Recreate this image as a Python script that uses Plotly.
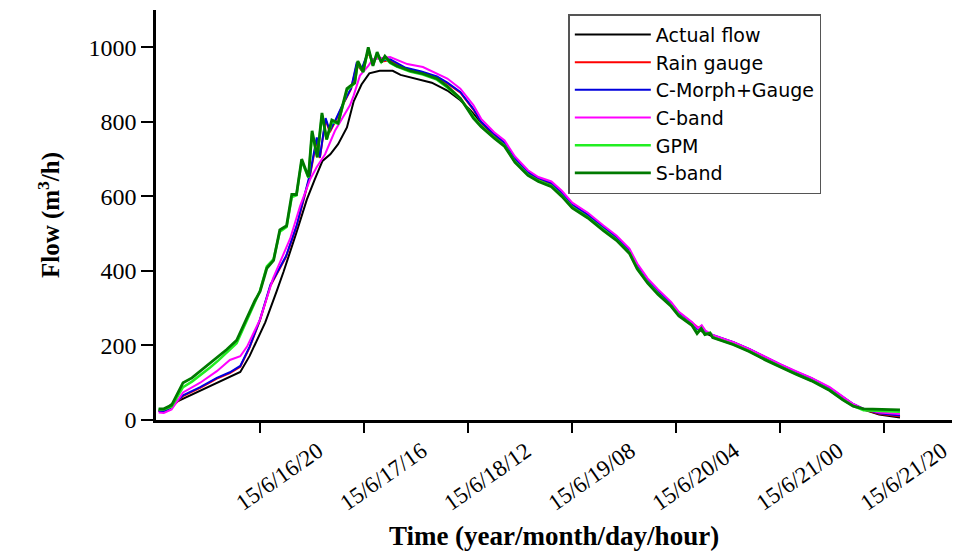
import pandas as pd
import plotly.graph_objects as go

# ---------------- data (hours after 2015-06-16 00:00, flow in m3/h) ----------------
START = "2015-06-16 00:00"
tick_hours = [20, 40, 60, 80, 100, 120, 140]

actual_h = [0.5, 1.5, 3, 6, 9, 12, 14.2, 16.2, 18, 21, 23.2, 24.5, 27, 29, 30.5, 32, 33.5, 35, 36.7,
            38, 39.5, 41, 43, 45.5, 47, 50, 53, 56, 58.5, 60.5, 62.5, 65, 67, 69, 71.5, 73.5, 76, 78,
            80, 83, 86, 88.5, 91, 92.5, 94.5, 96.5, 99, 100.5, 103, 105, 107, 111, 114, 117, 120,
            123, 126, 129.5, 132, 134, 136, 139, 143]
actual_v = [26, 24, 43, 63, 83, 102, 116, 129, 172, 262, 346, 397, 503, 592, 645, 695, 713, 740, 785,
            855, 900, 930, 937, 937, 926, 916, 905, 884, 858, 830, 797, 763, 740, 697, 661, 645, 632, 606,
            574, 547, 513, 487, 452, 410, 372, 342, 310, 284, 258, 237, 224, 205, 187, 165, 145,
            126, 108, 82, 57, 40, 28, 15, 7]

gauge_h = [0.5, 1.5, 3, 5.2, 8.5, 11.7, 14.2, 16.2, 18, 20, 22, 23.8, 25, 27, 28.5, 29.6, 30.9, 31.5,
           32.6, 33.4, 34.5, 36, 37.5, 38.6, 39.5, 40.8, 41.7, 42.5, 43.5, 45, 48, 51, 54, 56, 58.5,
           61, 62.5, 65, 67, 69, 71.5, 73.5, 76, 78, 80, 83, 86, 88.5, 91, 92.5, 94.5, 96.5, 99,
           100.5, 103, 105, 107, 111, 114, 117, 120, 123, 126, 129.5, 132, 134, 136, 139, 143]
gauge_v = [24, 23, 34, 64, 86, 111, 126, 143, 195, 268, 360, 405, 438, 518, 598, 655, 752, 703,
           806, 772, 802, 848, 888, 955, 938, 985, 958, 976, 962, 965, 943, 933, 920, 903, 878,
           833, 799, 766, 743, 700, 664, 648, 635, 609, 577, 550, 516, 490, 455, 413, 375, 345, 313,
           287, 261, 240, 227, 208, 190, 168, 148, 129, 111, 85, 60, 42, 29, 17, 10]

cmorph_h = [0.5, 1.5, 3, 5.2, 8.5, 11.7, 14.2, 16.2, 18, 20, 22, 23.8, 25, 27, 28.5, 29.6, 30.9, 31.5,
            32.6, 33.4, 34.5, 36, 37.5, 38.6, 39.5, 40.8, 41.7, 42.5, 43.5, 45, 48, 51, 54, 56, 58.5,
            61, 62.5, 65, 67, 69, 71.5, 73.5, 76, 78, 80, 83, 86, 88.5, 91, 92.5, 94.5, 96.5, 99,
            100.5, 103, 104, 104.8, 105.5, 107, 111, 114, 117, 120, 123, 126, 129.5, 132, 134, 136,
            139, 143]
cmorph_v = [24, 23, 35, 66, 88, 113, 128, 145, 197, 270, 363, 408, 440, 520, 600, 660, 758, 705,
            810, 776, 805, 850, 890, 960, 940, 990, 960, 980, 965, 968, 945, 935, 922, 905, 880,
            835, 800, 767, 744, 701, 665, 649, 636, 610, 578, 551, 517, 491, 456, 414, 376, 346, 314,
            288, 262, 244, 252, 238, 228, 209, 191, 169, 149, 130, 112, 86, 61, 43, 30, 18, 12]

cband_h = [0.5, 1.5, 3, 5.2, 8.5, 11.7, 14.2, 16.2, 17.5, 20, 22.5, 25.8, 27.7, 29.6, 30.9, 32.5,
           34.4, 37.3, 38, 39.2, 40.8, 41.7, 45, 48.3, 51.3, 54, 56, 58.5, 61, 62.5, 65, 67, 69,
           71.5, 73.5, 76, 78, 80, 83, 86, 88.5, 91, 92.5, 94.5, 96.5, 99, 100.5, 103, 104.2, 104.9,
           105.6, 107, 111, 114, 117, 120, 123, 126, 129.5, 132, 134, 136, 139, 143]
cband_v = [20, 19, 28, 74, 100, 131, 161, 171, 197, 270, 380, 487, 574, 645, 679, 713,
           776, 845, 871, 924, 950, 968, 974, 955, 947, 929, 916, 889, 845, 808, 772, 750, 707,
           670, 652, 640, 615, 583, 556, 522, 495, 460, 420, 380, 350, 317, 290, 263, 246, 254,
           240, 228, 209, 191, 170, 150, 131, 113, 88, 62, 43, 30, 20, 16]

gpm_h = [0.5, 1.5, 3, 5.2, 6.9, 8.5, 10.4, 12, 13.6, 15.5, 17.5, 19, 20, 21.3, 22.6, 23.8, 25.1, 26.1,
         27, 28, 29.3, 30, 31, 31.9, 32.8, 33.8, 35, 36.7, 38.2, 38.8, 39.8, 40.8, 41.7, 42.5, 43.3,
         44, 45, 46.3, 48.8, 51.3, 54, 56, 58.5, 61, 62.5, 65, 67, 69, 71.5, 73.5, 76, 78, 80, 83,
         86, 88.5, 91, 92.5, 94.5, 96.5, 99, 100.5, 103, 104, 104.8, 105.5, 106.5, 107, 111, 114,
         117, 120, 123, 126, 129.5, 132, 134, 136, 139, 143]
gpm_v = [28, 28, 36, 88, 103, 120, 141, 160, 180, 206, 268, 318, 347, 412, 432, 505, 518, 598,
         603, 695, 650, 770, 705, 818, 752, 800, 795, 885, 903, 960, 933, 995, 952, 982, 960,
         972, 958, 948, 935, 927, 913, 892, 862, 814, 788, 758, 736, 693, 658, 642, 628, 602, 571, 544,
         510, 484, 449, 407, 369, 339, 307, 281, 255, 234, 246, 230, 234, 222, 203, 185, 163, 143,
         124, 106, 80, 55, 38, 26, 24, 22]

sband_h = [0.5, 1.5, 3, 5.2, 6.9, 8.5, 10.4, 12, 13.6, 15.5, 17.5, 19, 20, 21.3, 22.6, 23.8, 25.1, 26.1,
           27, 28, 29.3, 30, 31, 31.9, 32.8, 33.8, 35, 36.7, 38.2, 38.8, 39.8, 40.8, 41.7, 42.5, 43.3,
           44, 45, 46.3, 48.8, 51.3, 54, 56, 58.5, 61, 62.5, 65, 67, 69, 71.5, 73.5, 76, 78, 80, 83,
           86, 88.5, 91, 92.5, 94.5, 96.5, 99, 100.5, 103, 104, 104.8, 105.5, 106.5, 107, 111, 114,
           117, 120, 123, 126, 129.5, 132, 134, 136, 139, 143]
sband_v = [30, 30, 40, 100, 113, 131, 152, 170, 189, 214, 275, 320, 345, 407, 428, 510, 521, 605,
           605, 700, 652, 776, 705, 824, 753, 805, 797, 889, 905, 963, 934, 1000, 950, 987, 960,
           976, 960, 950, 937, 929, 916, 895, 863, 810, 787, 756, 734, 691, 656, 640, 626, 600, 569, 542,
           508, 482, 447, 405, 367, 337, 305, 279, 254, 232, 245, 229, 233, 221, 202, 184, 162, 142,
           123, 105, 79, 54, 37, 30, 29, 27]

series = [
    ("Actual flow", actual_h, actual_v, "#000000", 2),
    ("Rain gauge", gauge_h, gauge_v, "#ff0000", 2),
    ("C-Morph+Gauge", cmorph_h, cmorph_v, "#0000dd", 2),
    ("C-band", cband_h, cband_v, "#ff00ff", 2),
    ("GPM", gpm_h, gpm_v, "#22ee22", 2.5),
    ("S-band", sband_h, sband_v, "#007a00", 2.8),
]

# ---------------- figure ----------------
base = pd.Timestamp(START)
fig = go.Figure()
for name, hrs, vals, color, w in series:
    t = base + pd.to_timedelta(hrs, unit="h")
    fig.add_trace(go.Scatter(x=t, y=vals, mode="lines", name=name,
                             line=dict(color=color, width=w)))

serif = "Liberation Serif, Times New Roman, serif"
fig.update_layout(
    width=965, height=556,
    margin=dict(l=156, r=13, t=10, b=128),
    paper_bgcolor="white", plot_bgcolor="white",
    showlegend=True,
    legend=dict(x=0.518, y=0.99, xanchor="left", yanchor="top",
                bordercolor="#555555", borderwidth=1.5, bgcolor="white",
                font=dict(family="DejaVu Sans, Arial, sans-serif", size=19, color="black"),
                tracegroupgap=0, itemwidth=76),
    xaxis=dict(
        type="date",
        range=[base, base + pd.Timedelta(hours=153)],
        tickvals=[base + pd.Timedelta(hours=h) for h in tick_hours],
        tickformat="%y/%-m/%d/%H", tickangle=-35,
        ticks="outside", ticklen=10, tickwidth=2, tickcolor="black",
        showline=True, linewidth=2.5, linecolor="black",
        showgrid=False, zeroline=False,
        tickfont=dict(family=serif, size=23, color="black"),
        ticklabelshift=58, ticklabelstandoff=-4,
        title=dict(text="<b>Time (year/month/day/hour)</b>",
                   font=dict(family=serif, size=27, color="black"), standoff=12),
    ),
    yaxis=dict(
        range=[0, 1100],
        tickvals=[0, 200, 400, 600, 800, 1000],
        ticks="outside", ticklen=12, tickwidth=2, tickcolor="black",
        showline=True, linewidth=2.5, linecolor="black",
        showgrid=False, zeroline=False,
        tickfont=dict(family=serif, size=24, color="black"),
        title=dict(text="<b>Flow (m<sup>3</sup>/h)</b>",
                   font=dict(family=serif, size=25, color="black"), standoff=22),
    ),
)

fig.write_html("out.html")
